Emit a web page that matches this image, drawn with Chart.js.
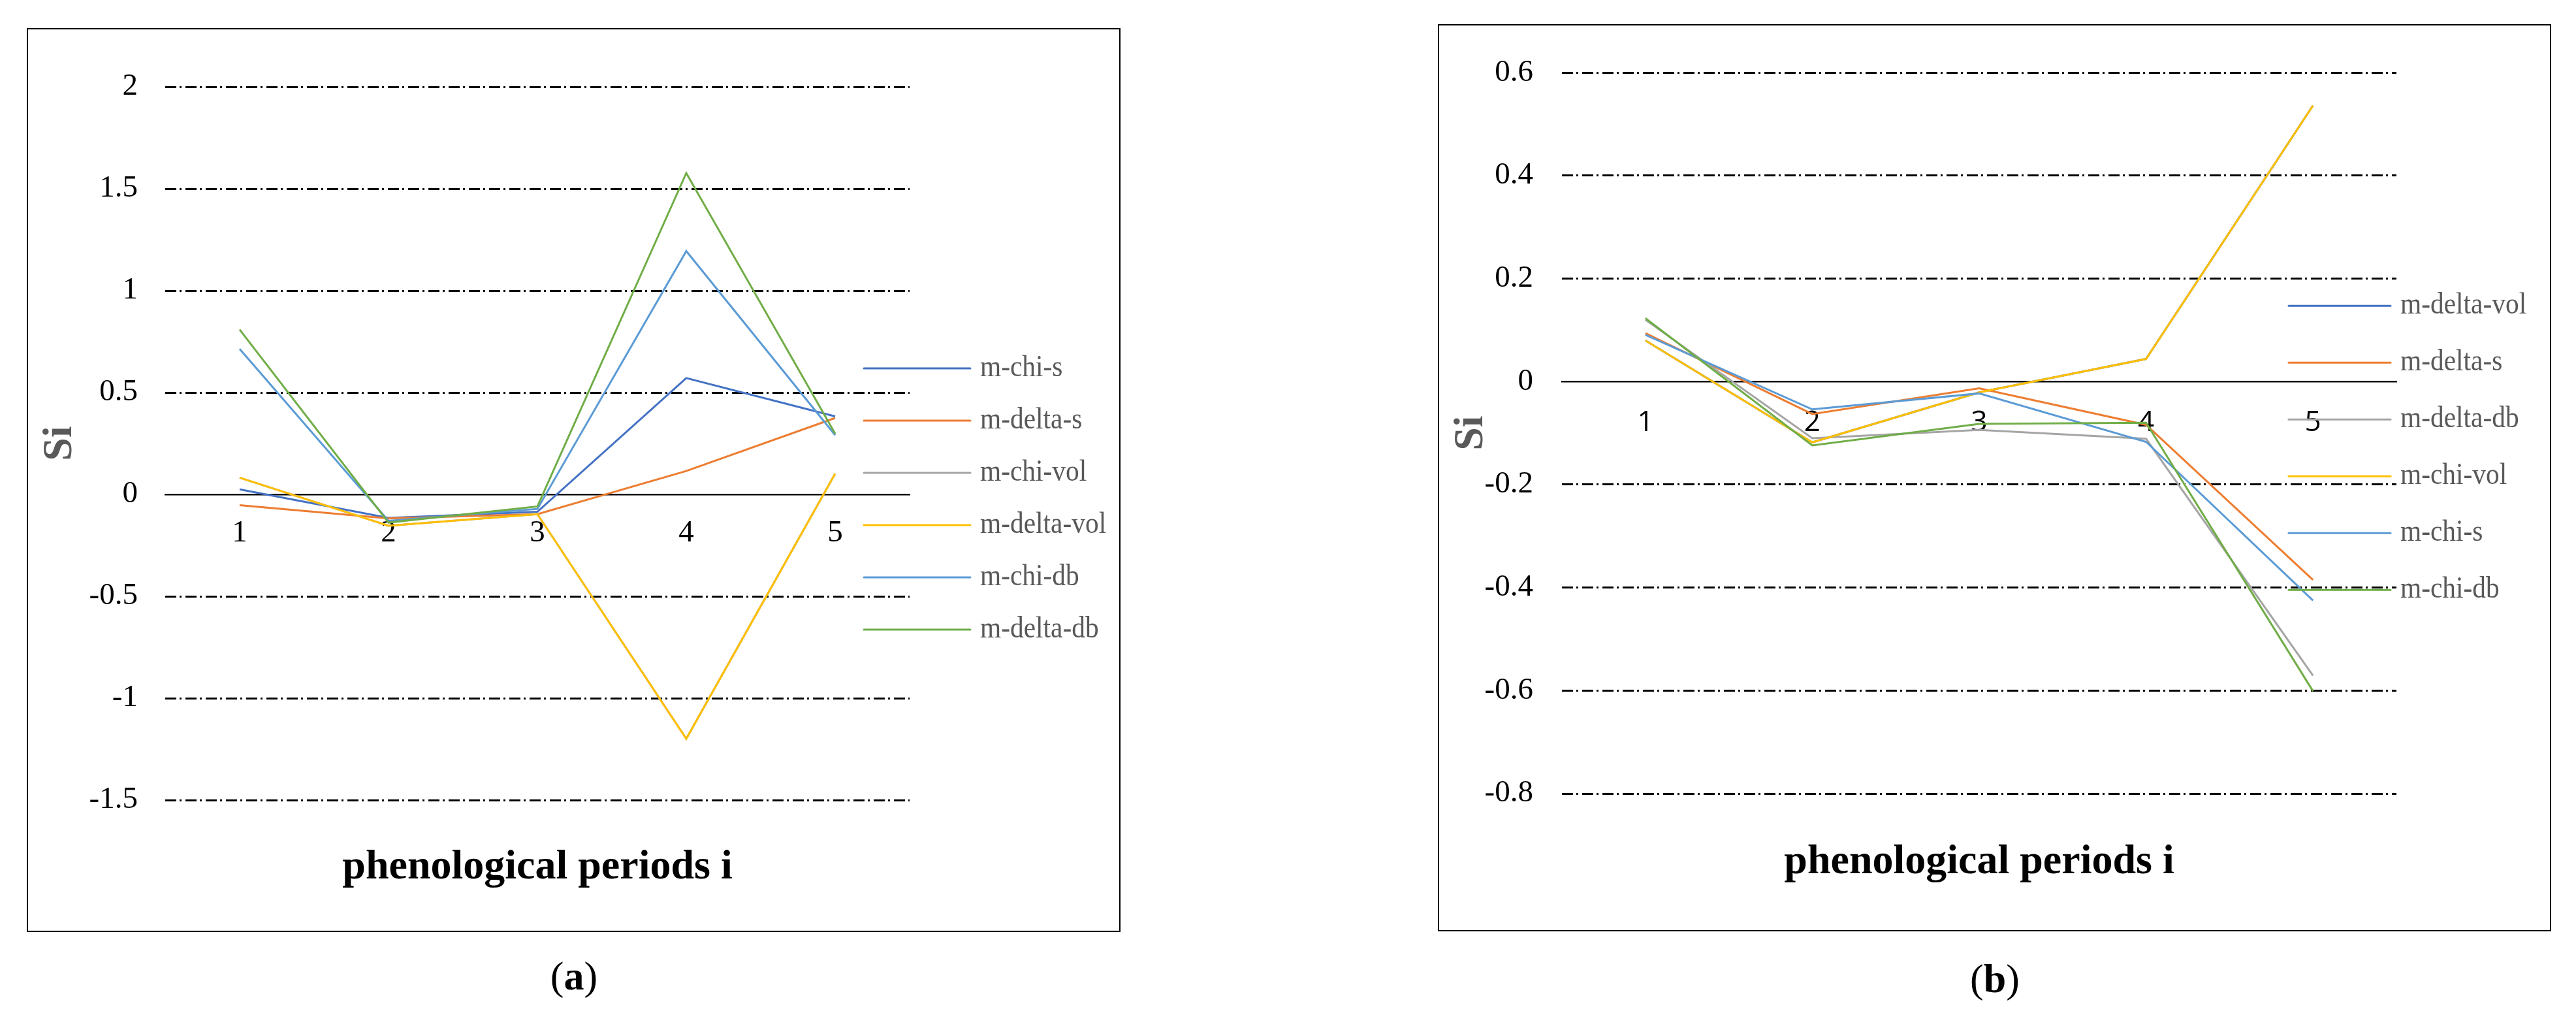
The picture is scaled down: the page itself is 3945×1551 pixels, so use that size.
<!DOCTYPE html>
<html lang="en">
<head>
<meta charset="UTF-8">
<title>Si per phenological period</title>
<script src="https://cdn.jsdelivr.net/npm/chart.js"></script>
<style>
  body { margin: 0; width: 3945px; height: 1551px; background: #fff; position: relative; overflow: hidden; font-family: "Liberation Serif", serif; }
  .panel { position: absolute; border: 2px solid #000; box-sizing: border-box; }
  .panel canvas { position: absolute; left: 0; top: 0; }
  .tag { position: absolute; width: 200px; text-align: center; font-size: 62px; line-height: 62px; color: #000; }
</style>
</head>
<body>
<div class="panel" style="left:41px;top:43px;width:1675px;height:1384px;">
  <canvas id="chartA" width="1671" height="1380"></canvas>
</div>
<div class="panel" style="left:2202px;top:37px;width:1705px;height:1389px;">
  <canvas id="chartB" width="1701" height="1385"></canvas>
</div>
<div class="tag" style="left:779px;top:1463px;">(<b>a</b>)</div>
<div class="tag" style="left:2955px;top:1467px;">(<b>b</b>)</div>

<script>
// categories
const periods = ['1', '2', '3', '4', '5'];

// panel (a)
const namesA = ['m-chi-s', 'm-delta-s', 'm-chi-vol', 'm-delta-vol', 'm-chi-db', 'm-delta-db'];
const chiS_A = [0.025, -0.115, -0.085, 0.571, 0.383];
const deltaS_A = [-0.053, -0.118, -0.097, 0.115, 0.375];
const chiVol_A = [0.082, -0.154, -0.097, -1.199, 0.102];
const deltaVol_A = [0.082, -0.154, -0.097, -1.199, 0.102];
const chiDb_A = [0.714, -0.130, -0.071, 1.194, 0.291];
const deltaDb_A = [0.809, -0.138, -0.059, 1.577, 0.298];
const yTicksA = [-1.5, -1, -0.5, 0, 0.5, 1, 1.5, 2];
const yLabelsA = ['-1.5', '-1', '-0.5', '0', '0.5', '1', '1.5', '2'];

// panel (b)
const namesB = ['m-delta-vol', 'm-delta-s', 'm-delta-db', 'm-chi-vol', 'm-chi-s', 'm-chi-db'];
const deltaVol_B = [0.080, -0.118, -0.021, 0.044, 0.536];
const deltaS_B = [0.094, -0.063, -0.013, -0.084, -0.385];
const deltaDb_B = [0.120, -0.110, -0.094, -0.111, -0.571];
const chiVol_B = [0.080, -0.118, -0.021, 0.044, 0.536];
const chiS_B = [0.091, -0.054, -0.023, -0.117, -0.425];
const chiDb_B = [0.123, -0.124, -0.082, -0.080, -0.601];
const yTicksB = [-0.8, -0.6, -0.4, -0.2, 0, 0.2, 0.4, 0.6];
const yLabelsB = ['-0.8', '-0.6', '-0.4', '-0.2', '0', '0.2', '0.4', '0.6'];

// office palette, same order in both panels
const colors = ['#4472C4', '#ED7D31', '#A5A5A5', '#FFC000', '#5B9BD5', '#70AD47'];

const serif = 'Liberation Serif';

// legend drawn beside (and partly over) the plot, like the excel one
const sideLegend = {
  id: 'sideLegend',
  afterDraw(chart, args, opts) {
    const { ctx, chartArea } = chart;
    ctx.save();
    chart.data.datasets.forEach((ds, i) => {
      const y = chartArea.top + opts.top + i * opts.step;
      ctx.strokeStyle = ds.borderColor;
      ctx.lineWidth = 3;
      ctx.lineCap = 'round';
      ctx.beginPath();
      ctx.moveTo(chartArea.right + opts.lineFrom, y);
      ctx.lineTo(chartArea.right + opts.lineTo, y);
      ctx.stroke();
      // the source font is a bit narrow, squeeze it a little
      ctx.save();
      ctx.translate(chartArea.right + opts.textX, y);
      ctx.scale(0.9, 1);
      ctx.font = '46px "' + serif + '"';
      ctx.textBaseline = 'middle';
      ctx.textAlign = 'left';
      ctx.fillStyle = '#595959';
      ctx.fillText(ds.label, 0, 0);
      ctx.restore();
    });
    ctx.restore();
  }
};

function makeChart(id, p) {
  const n = p.series.length;
  const datasets = p.series.map((data, i) => ({
    label: p.names[i],
    data: data,
    borderColor: colors[i],
    backgroundColor: colors[i],
    borderWidth: 3,
    pointRadius: 0,
    tension: 0,
    fill: false,
    order: n - i   // last series ends up on top
  }));

  new Chart(document.getElementById(id), {
    type: 'line',
    data: { labels: periods, datasets: datasets },
    plugins: [sideLegend],
    options: {
      responsive: false,
      animation: false,
      layout: { padding: p.padding },
      plugins: {
        legend: { display: false },
        tooltip: { enabled: false },
        title: {
          display: true,
          position: 'bottom',
          fullSize: false,
          text: 'phenological periods i',
          color: '#000',
          font: { family: serif, size: 64, weight: 'bold', lineHeight: 1.2 },
          padding: { top: p.titleGap, bottom: 0 }
        },
        sideLegend: p.legend
      },
      scales: {
        x: {
          type: 'category',
          position: { y: 0 },
          offset: true,
          grid: { display: true, drawOnChartArea: false, drawTicks: false },
          border: { display: true, color: '#000', width: 2.5 },
          ticks: {
            color: '#000',
            font: p.xFont,
            padding: p.xPad,
            autoSkip: false,
            maxRotation: 0
          },
          afterFit: (s) => { s.height = 0; }
        },
        y: {
          min: p.yTicks[0],
          max: p.yTicks[p.yTicks.length - 1],
          afterBuildTicks: (s) => { s.ticks = p.yTicks.map(v => ({ value: v })); },
          afterFit: (s) => { s.width = p.yWidth; },
          grid: {
            drawTicks: false,
            lineWidth: 3,
            color: (c) => (c.tick && c.tick.value === 0) ? 'rgba(0,0,0,0)' : '#000',
            borderDash: [17, 5, 3, 6]
          },
          border: { display: false, dash: [17, 5, 3, 6] },
          ticks: {
            color: '#000',
            font: { family: serif, size: 47 },
            padding: p.yPad,
            callback: (v) => p.yLabels[p.yTicks.indexOf(v)]
          },
          title: {
            display: true,
            text: 'Si',
            color: '#595959',
            font: { family: serif, size: 64, weight: 'bold', lineHeight: 1 },
            padding: { top: 17, bottom: 0 }
          }
        }
      }
    }
  });
}

makeChart('chartA', {
  names: namesA,
  series: [chiS_A, deltaS_A, chiVol_A, deltaVol_A, chiDb_A, deltaDb_A],
  yTicks: yTicksA,
  yLabels: yLabelsA,
  padding: { left: 0, top: 88, right: 321, bottom: 58.6 },
  titleGap: 64.6,
  yWidth: 210,
  yPad: 42,
  xFont: { family: serif, size: 47 },
  xPad: 31,
  legend: { lineFrom: -70, lineTo: 93, textX: 108, top: 431, step: 80 }
});

makeChart('chartB', {
  names: namesB,
  series: [deltaVol_B, deltaS_B, deltaDb_B, chiVol_B, chiS_B, chiDb_B],
  yTicks: yTicksB,
  yLabels: yLabelsB,
  padding: { left: 0, top: 68, right: 235, bottom: 65.6 },
  titleGap: 66.6,
  yWidth: 188,
  yPad: 44,
  xFont: { family: 'Open Sans', size: 44 },
  xPad: 37,
  legend: { lineFrom: -165, lineTo: -9, textX: 6, top: 357, step: 87 }
});
</script>
</body>
</html>
